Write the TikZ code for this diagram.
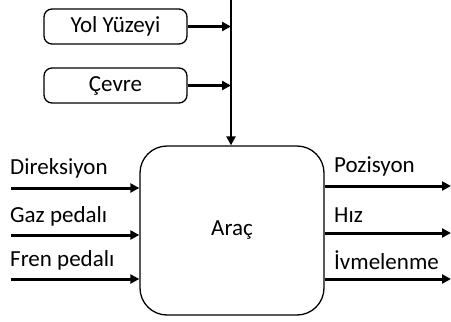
\documentclass[tikz,border=0pt]{standalone}
\usepackage{fontspec}
\setmainfont{Carlito}
\usepackage{tikz}
\usetikzlibrary{arrows.meta,positioning,calc}
\definecolor{BlokSiyah}{HTML}{000000}

\tikzset{
  kutu/.style={draw=BlokSiyah,line width=1.3pt,rounded corners=8pt,minimum width=143pt,minimum height=35pt,font=\fontsize{23}{27}\selectfont},
  arac/.style={draw=BlokSiyah,line width=1.3pt,rounded corners=27pt,minimum width=184pt,minimum height=169pt,font=\fontsize{23}{27}\selectfont},
  sinyal/.style={line width=3pt,-{Triangle[length=9pt,width=9pt]}},
  etiket/.style={anchor=west,inner sep=0pt,font=\fontsize{23}{27}\selectfont},
}

\begin{document}
\begin{tikzpicture}[x=1pt,y=-1pt]
\useasboundingbox (0,0) rectangle (451,322);
% ana blok ve cevre girisleri
\node[arac] (arac) at (232,230.5) {Araç};
\node[kutu] (yol) at (115.5,26.5) {Yol Yüzeyi};
\node[kutu] (cevre) at (115.5,85.5) {Çevre};
\coordinate (hat) at (231,0);
\draw[line width=2.5pt,-{Triangle[length=9pt,width=9pt]}] (hat) -- (hat |- arac.north);
\draw[sinyal] (yol.east) -- (yol.east -| hat);
\draw[sinyal] (cevre.east) -- (cevre.east -| hat);
% girisler
\node[etiket] (direksiyon) at (10,168) {Direksiyon};
\node[etiket] (gaz) at (10,216) {Gaz pedalı};
\node[etiket] (fren) at (10,260) {Fren pedalı};
\coordinate (g1) at (11,188);
\coordinate (g2) at (11,235);
\coordinate (g3) at (11,279);
\draw[sinyal] (g1) -- (g1 -| arac.west);
\draw[sinyal] (g2) -- (g2 -| arac.west);
\draw[sinyal] (g3) -- (g3 -| arac.west);
% cikislar
\node[etiket] (pozisyon) at (334,166) {Pozisyon};
\node[etiket] (hiz) at (334,215) {Hız};
\node[etiket] (ivme) at (334,260) {İvmelenme};
\coordinate (c1) at (451,186);
\coordinate (c2) at (451,233);
\coordinate (c3) at (451,279);
\draw[sinyal] (c1 -| arac.east) -- (c1);
\draw[sinyal] (c2 -| arac.east) -- (c2);
\draw[sinyal] (c3 -| arac.east) -- (c3);
\end{tikzpicture}
\end{document}
